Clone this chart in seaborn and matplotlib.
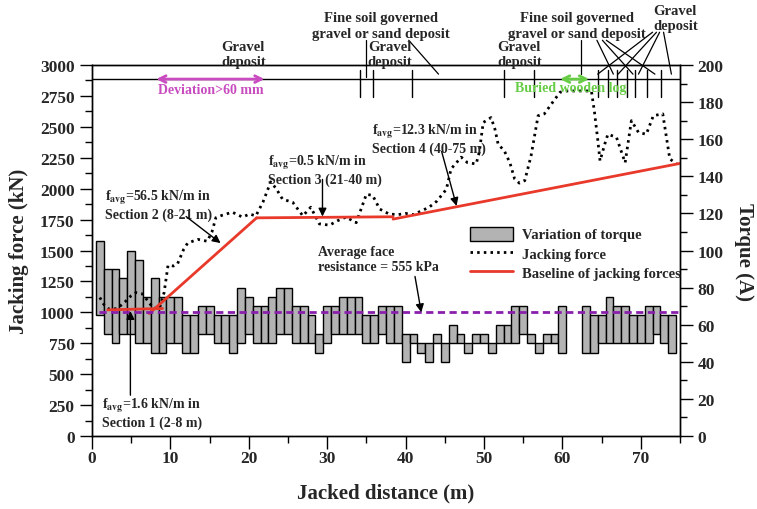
import matplotlib
matplotlib.use("Agg")
import matplotlib.pyplot as plt
import seaborn as sns
from matplotlib.patches import Patch
from matplotlib.lines import Line2D
from matplotlib.ticker import MultipleLocator

# ---- torque variation per metre of drive (min / max, A) ----
torque_dist = list(range(1, 61)) + list(range(63, 75))
torque_low = [65, 55, 50, 55, 55, 50, 50, 45, 45, 50,
              50, 45, 45, 55, 55, 50, 50, 45, 50, 55,
              50, 50, 50, 55, 55, 50, 50, 50, 45, 50,
              55, 55, 55, 55, 50, 50, 55, 50, 50, 40,
              50, 45, 40, 50, 40, 50, 50, 45, 50, 50,
              45, 50, 50, 50, 55, 50, 45, 50, 50, 45,
              45, 45, 50, 50, 50, 50, 50, 50, 50, 55, 50, 45]
torque_high = [105, 90, 90, 85, 100, 95, 75, 85, 75, 75,
               75, 65, 65, 70, 70, 65, 65, 65, 80, 75,
               70, 70, 75, 80, 80, 70, 70, 65, 55, 70,
               70, 75, 75, 75, 65, 65, 70, 70, 70, 55,
               55, 50, 50, 55, 50, 60, 55, 50, 55, 55,
               50, 60, 60, 70, 70, 55, 50, 55, 55, 70,
               70, 65, 65, 75, 70, 70, 65, 65, 70, 70, 65, 65]

# ---- measured jacking force (kN) ----
jack_dist = [1.0, 1.5, 2.2, 3.2, 4.3, 5.0, 5.6, 6.4, 7.1, 7.8,
             8.6, 9.2, 9.7, 10.4, 10.9, 11.7, 12.2, 13.5, 14.7, 15.3,
             15.8, 16.6, 17.9, 19.2, 20.1, 20.9, 21.8, 22.8, 23.5, 24.3,
             25.6, 26.9, 27.9, 29.0, 30.3, 31.3, 32.4, 33.7, 35.0, 35.8,
             36.7, 37.9, 39.0, 40.0, 41.0, 42.0, 43.0, 44.0, 45.2, 45.8,
             47.1, 47.9, 49.0, 49.4, 49.9, 50.9, 51.4, 51.8, 52.6, 53.3,
             53.9, 54.5, 55.2, 56.0, 56.9, 57.7, 58.6, 59.7, 60.5, 62.2,
             63.7, 64.1, 64.5, 64.8, 65.4, 65.8, 66.9, 68.0, 68.8, 69.7,
             70.7, 71.6, 72.8, 73.7, 74.6]
jack_force = [1120, 1065, 1025, 1030, 1090, 1135, 1160, 1150, 1095, 1035,
              1030, 1160, 1380, 1375, 1390, 1510, 1560, 1590, 1575, 1650,
              1765, 1785, 1810, 1770, 1795, 1780, 1890, 2055, 2000, 1915,
              1890, 1780, 1850, 1715, 1705, 1740, 1770, 1725, 1955, 1945,
              1835, 1795, 1790, 1800, 1790, 1820, 1850, 1900, 1995, 2160,
              2255, 2210, 2200, 2295, 2535, 2575, 2480, 2360, 2305, 2210,
              2080, 2045, 2065, 2265, 2590, 2605, 2685, 2780, 2790, 2790,
              2790, 2615, 2400, 2225, 2360, 2440, 2415, 2210, 2550, 2455,
              2440, 2590, 2605, 2240, 2200]

# ---- baseline sections: start/end (m) and average friction (kN/m) ----
section_start = [2, 8, 21, 40]
section_end = [8, 21, 40, 75]
section_favg = [1.6, 56.5, 0.5, 12.3]
baseline_start_force = 1020
face_force = 1000  # average face resistance = 555 kPa

# ---- geology along the drive ----
boundaries = [34.2, 35.8, 40.8, 52.6, 56.4, 64.5, 65.8, 66.9, 68.3, 69.2, 70.8, 72.6]
strata_labels = ["Gravel\ndeposit", "Fine soil governed\ngravel or sand deposit",
                 "Gravel\ndeposit", "Gravel\ndeposit",
                 "Fine soil governed\ngravel or sand deposit", "Gravel\ndeposit"]
strata_x = [19.3, 36.8, 38.0, 54.5, 61.8, 74.4]
strata_bottom = [2975, 3205, 2975, 2975, 3205, 3265]

deviation_range = [8.2, 22.0]
wooden_log_range = [59.7, 63.4]

sns.set_style("ticks")
plt.rcParams["font.family"] = ["Liberation Serif", "DejaVu Serif"]
plt.rcParams["font.weight"] = "bold"
plt.rcParams["mathtext.fontset"] = "stix"

fig = plt.figure(figsize=(7.57, 5.10), dpi=100)
ax = fig.add_axes([0.1215, 0.1431, 0.7768, 0.7275])
ax2 = ax.twinx()
ax.set_zorder(ax2.get_zorder() + 1)
ax.patch.set_visible(False)

# torque bars on the right axis
heights = [h - l for h, l in zip(torque_high, torque_low)]
ax2.bar(torque_dist, heights, bottom=torque_low, width=1.0,
        color="#B3B3B3", edgecolor="black", linewidth=1.0)

# jacking force
sns.lineplot(x=jack_dist, y=jack_force, ax=ax, color="black", lw=2.0,
             linestyle=(0, (0.9, 1.5)), sort=False, estimator=None)

# baseline of jacking forces
red = "#E8392B"
f0 = baseline_start_force
ext_back = [0.0, 0.7, 0.0, 1.6]
ext_fwd = [1.0, 0.0, -1.6, 0.0]
for s, e, fa, b, fw in zip(section_start, section_end, section_favg, ext_back, ext_fwd):
    xs = [s - b, e + fw]
    ys = [f0 + fa * (x - s) for x in xs]
    sns.lineplot(x=xs, y=ys, ax=ax, color=red, lw=2.0, estimator=None)
    f0 = f0 + fa * (e - s)

# average face resistance
ax.plot([0.9, 75], [face_force, face_force], color="#8A1FAE", lw=2.0,
        linestyle=(0, (2.6, 1.6)))

# geology strip
ax.plot([0, 75], [2885, 2885], color="black", lw=1.0)
for b in boundaries:
    ax.plot([b, b], [2740, 2960], color="black", lw=1.0)
for lab, x, y in zip(strata_labels, strata_x, strata_bottom):
    ax.text(x, y, lab, ha="center", va="bottom", fontsize=10.5,
            fontweight="bold", linespacing=1.25, clip_on=False)
leaders = [((34.9, 3200), (34.9, 2905)), ((40.4, 3200), (44.2, 2926)),
           ((62.4, 3200), (62.4, 2926)), ((64.4, 3200), (66.5, 2926)),
           ((65.1, 3200), (69.0, 2926)), ((65.6, 3200), (71.8, 2926)),
           ((71.5, 3265), (64.5, 2926)), ((72.0, 3265), (67.1, 2926)),
           ((72.4, 3265), (69.7, 2926)), ((72.9, 3265), (73.9, 2926))]
for (x0, y0), (x1, y1) in leaders:
    ax.plot([x0, x1], [y0, y1], color="black", lw=0.9, clip_on=False)

magenta = "#C94BC0"
green = "#66CC44"
ax.annotate("", xy=(deviation_range[0], 2886), xytext=(deviation_range[1], 2886),
            arrowprops=dict(arrowstyle="<->", color=magenta, lw=2.0,
                            mutation_scale=12, shrinkA=0, shrinkB=0))
ax.text(sum(deviation_range) / 2, 2800, "Deviation>60 mm", color=magenta,
        ha="center", va="center", fontsize=10, fontweight="bold")
ax.annotate("", xy=(wooden_log_range[0], 2886), xytext=(wooden_log_range[1], 2886),
            arrowprops=dict(arrowstyle="<->", color=green, lw=2.0,
                            mutation_scale=12, shrinkA=0, shrinkB=0))
ax.text(61.1, 2815, "Buried wooden log", color=green,
        ha="center", va="center", fontsize=10, fontweight="bold")

# section annotations
fs = 10
arrow = dict(arrowstyle="-|>", color="black", lw=1.0, mutation_scale=12,
             shrinkA=0, shrinkB=0)
fsub = r"f$_{\mathbf{avg}}$"
ax.text(1.6, 1870, fsub + "=56.5 kN/m in\nSection 2 (8-21 m)", fontsize=fs,
        fontweight="bold", va="center", ha="left", linespacing=1.15)
ax.annotate("", xy=(16.4, 1560), xytext=(12.0, 1775), arrowprops=arrow)
ax.text(22.4, 2158, fsub + "=0.5 kN/m in\nSection 3 (21-40 m)", fontsize=fs,
        fontweight="bold", va="center", ha="left", linespacing=1.15)
ax.annotate("", xy=(29.4, 1775), xytext=(29.4, 2075), arrowprops=arrow)
ax.text(35.7, 2409, fsub + "=12.3 kN/m in\nSection 4 (40-75 m)", fontsize=fs,
        fontweight="bold", va="center", ha="left", linespacing=1.15)
ax.annotate("", xy=(46.5, 1860), xytext=(44.6, 2300), arrowprops=arrow)
ax.text(1.3, 194, fsub + "=1.6 kN/m in\nSection 1 (2-8 m)", fontsize=fs,
        fontweight="bold", va="center", ha="left", linespacing=1.15)
ax.annotate("", xy=(4.9, 1010), xytext=(4.9, 330), arrowprops=arrow)
ax.text(28.8, 1431, "Average face\nresistance = 555 kPa", fontsize=fs,
        fontweight="bold", va="center", ha="left", linespacing=1.15)
ax.annotate("", xy=(42.0, 1000), xytext=(41.2, 1290), arrowprops=arrow)

# axes
ax.set_xlim(0, 75)
ax.set_ylim(0, 3000)
ax2.set_ylim(0, 200)
ax.xaxis.set_major_locator(MultipleLocator(10))
ax.xaxis.set_minor_locator(MultipleLocator(5))
ax.yaxis.set_major_locator(MultipleLocator(250))
ax.yaxis.set_minor_locator(MultipleLocator(125))
ax2.yaxis.set_major_locator(MultipleLocator(20))
ax2.yaxis.set_minor_locator(MultipleLocator(10))
for a in (ax, ax2):
    a.tick_params(which="major", length=9, width=1.0, direction="out",
                  labelsize=12.5, color="black")
    a.tick_params(which="minor", length=5, width=1.0, direction="out", color="black")
    for sp in a.spines.values():
        sp.set_visible(True)
        sp.set_color("black")
        sp.set_linewidth(1.0)
    for lab in a.get_xticklabels() + a.get_yticklabels():
        lab.set_fontweight("bold")
ax.tick_params(axis="x", which="major", pad=1.0)
ax.grid(False)
ax2.grid(False)

ax.set_xlabel("Jacked distance (m)", fontsize=15, fontweight="bold", labelpad=12)
ax.set_ylabel("Jacking force (kN)", fontsize=15, fontweight="bold", labelpad=8)
ax2.set_ylabel("Torque (A)", fontsize=15, fontweight="bold", rotation=270,
               labelpad=22)

handles = [Patch(facecolor="#B3B3B3", edgecolor="black", linewidth=1.0),
           Line2D([], [], color="black", lw=2.0, linestyle=(0, (0.9, 1.5))),
           Line2D([], [], color=red, lw=2.0)]
labels = ["Variation of torque", "Jacking force", "Baseline of jacking forces"]
ax.legend(handles, labels, loc="upper left", bbox_to_anchor=(0.62, 0.60),
          frameon=False, prop=dict(size=10.5, weight="bold"),
          handlelength=3.0, handleheight=1.1, labelspacing=0.3,
          handletextpad=0.6)

fig.savefig("out.png", dpi=100)
